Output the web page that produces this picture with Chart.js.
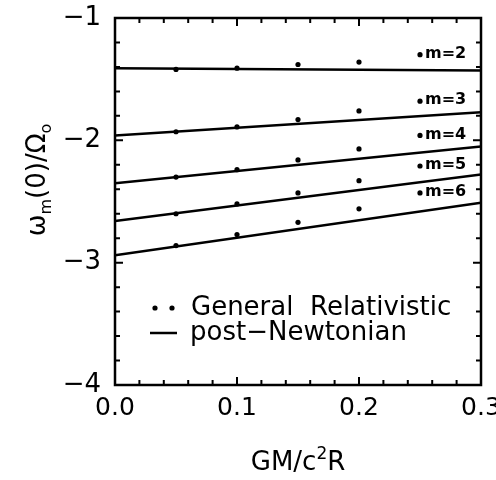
<!DOCTYPE html>
<html>
<head>
<meta charset="utf-8">
<script src="https://cdn.jsdelivr.net/npm/chart.js@4"></script>
<style>
  html, body { margin: 0; padding: 0; background: #fff; }
  #wrap { width: 496px; height: 480px; }
</style>
</head>
<body>
<div id="wrap"><canvas id="chart"></canvas></div>
<script>
// GM/c^2R values of the General Relativistic points
const xGR = [0.05, 0.1, 0.15, 0.2, 0.25];
const gr2 = [-1.42, -1.41, -1.38, -1.36, -1.30];
const gr3 = [-1.93, -1.89, -1.83, -1.76, -1.68];
const gr4 = [-2.30, -2.24, -2.16, -2.07, -1.96];
const gr5 = [-2.60, -2.52, -2.43, -2.33, -2.21];
const gr6 = [-2.86, -2.77, -2.67, -2.56, -2.43];

// post-Newtonian straight lines
const xPN = [0, 0.3];
const pn2 = [-1.41, -1.43];
const pn3 = [-1.96, -1.77];
const pn4 = [-2.35, -2.05];
const pn5 = [-2.66, -2.28];
const pn6 = [-2.94, -2.51];

const mLabels = ['m=2', 'm=3', 'm=4', 'm=5', 'm=6'];
const xTicks = [0.0, 0.1, 0.2, 0.3];
const yTicks = [-4, -3, -2, -1];

const FONT = '"DejaVu Sans", sans-serif';

function pts(xs, ys){
    return xs.map((x, i) => ({x: x, y: ys[i]}));
}

let grSets = [gr2, gr3, gr4, gr5, gr6];
let pnSets = [pn2, pn3, pn4, pn5, pn6];

let datasets = [];

grSets.forEach((s, i) => {
    datasets.push({
        label: 'GR ' + mLabels[i],
        data: pts(xGR, s),
        showLine: false,
        pointRadius: 2.6,
        pointBackgroundColor: '#000',
        pointBorderWidth: 0
    });
});

pnSets.forEach((s, i) => {
    datasets.push({
        label: 'PN ' + mLabels[i],
        data: pts(xPN, s),
        showLine: true,
        borderColor: '#000',
        borderWidth: 2.5,
        pointRadius: 0
    });
});

// draws pieces of text one after the other, centred on 0
function drawPieces(ctx, parts){
    let total = 0;
    parts.forEach(p => {
        ctx.font = p[1] + 'px ' + FONT;
        total += ctx.measureText(p[0]).width;
    });
    let cx = -total / 2;
    parts.forEach(p => {
        ctx.font = p[1] + 'px ' + FONT;
        ctx.fillText(p[0], cx, p[2]);
        cx += ctx.measureText(p[0]).width;
    });
}

// frame, inward ticks, m labels, legend and axis titles
const decor = {
    id: 'decor',
    afterDatasetsDraw(chart){
        let ctx = chart.ctx;
        let a = chart.chartArea;
        let xs = chart.scales.x;
        let ys = chart.scales.y;

        ctx.save();
        ctx.strokeStyle = '#000';
        ctx.lineWidth = 2.5;
        ctx.strokeRect(a.left, a.top, a.right - a.left, a.bottom - a.top);

        ctx.lineWidth = 2;
        ctx.beginPath();
        for(let k = 0; k <= 15; k++){
            let px = xs.getPixelForValue(k * 0.02);
            let len = (k % 5 === 0) ? 8 : 5;
            ctx.moveTo(px, a.bottom); ctx.lineTo(px, a.bottom - len);
            ctx.moveTo(px, a.top); ctx.lineTo(px, a.top + len);
        }
        for(let k = 0; k <= 15; k++){
            let py = ys.getPixelForValue(-4 + k * 0.2);
            let len = (k % 5 === 0) ? 8 : 5;
            ctx.moveTo(a.left, py); ctx.lineTo(a.left + len, py);
            ctx.moveTo(a.right, py); ctx.lineTo(a.right - len, py);
        }
        ctx.stroke();

        // m labels next to the last GR point
        ctx.fillStyle = '#000';
        ctx.font = 'bold 16px ' + FONT;
        ctx.textBaseline = 'middle';
        ctx.textAlign = 'left';
        grSets.forEach((s, i) => {
            let px = xs.getPixelForValue(xGR[xGR.length - 1]);
            let py = ys.getPixelForValue(s[s.length - 1]);
            ctx.fillText(mLabels[i], px + 5, py - 1);
        });

        // legend
        ctx.font = '26px ' + FONT;
        ctx.beginPath();
        ctx.arc(155, 308, 2.6, 0, Math.PI * 2);
        ctx.arc(172, 308, 2.6, 0, Math.PI * 2);
        ctx.fill();
        ctx.fillText('General  Relativistic', 191, 308);
        ctx.lineWidth = 2.5;
        ctx.beginPath();
        ctx.moveTo(150, 333); ctx.lineTo(177, 333);
        ctx.stroke();
        ctx.fillText('post\u2212Newtonian', 190, 333);

        ctx.textBaseline = 'alphabetic';

        // x title
        ctx.save();
        ctx.translate((a.left + a.right) / 2, 470);
        drawPieces(ctx, [['GM/c', 26, 0], ['2', 17, -11], ['R', 26, 0]]);
        ctx.restore();

        // y title
        ctx.translate(45, 180);
        ctx.rotate(-Math.PI / 2);
        drawPieces(ctx, [['\u03c9', 26, 0], ['m', 16, 6], ['(0)/\u03a9', 26, 0], ['o', 16, 6]]);
        ctx.restore();
    }
};

const ctx = document.getElementById('chart');

new Chart(ctx, {
    type: 'scatter',
    data: { datasets: datasets },
    options: {
        responsive: true,
        maintainAspectRatio: false,
        animation: false,
        devicePixelRatio: 1,
        layout: { padding: { left: 0, top: 18, right: 15, bottom: 0 } },
        plugins: {
            legend: { display: false },
            tooltip: { enabled: false }
        },
        scales: {
            x: {
                type: 'linear',
                min: 0,
                max: 0.3,
                afterBuildTicks: s => { s.ticks = xTicks.map(v => ({value: v})); },
                afterFit: s => { s.height = 95; s.paddingLeft = 0; s.paddingRight = 0; },
                grid: { display: false, drawTicks: false },
                border: { display: false },
                ticks: {
                    color: '#000',
                    padding: 8,
                    maxRotation: 0,
                    font: { family: FONT, size: 25 },
                    callback: v => v.toFixed(1)
                }
            },
            y: {
                type: 'linear',
                min: -4,
                max: -1,
                afterBuildTicks: s => { s.ticks = yTicks.map(v => ({value: v})); },
                afterFit: s => { s.width = 115; s.paddingTop = 0; s.paddingBottom = 0; },
                grid: { display: false, drawTicks: false },
                border: { display: false },
                ticks: {
                    color: '#000',
                    padding: 14,
                    font: { family: FONT, size: 26 },
                    callback: v => '\u2212' + Math.abs(v)
                }
            }
        }
    },
    plugins: [decor]
});
</script>
</body>
</html>
